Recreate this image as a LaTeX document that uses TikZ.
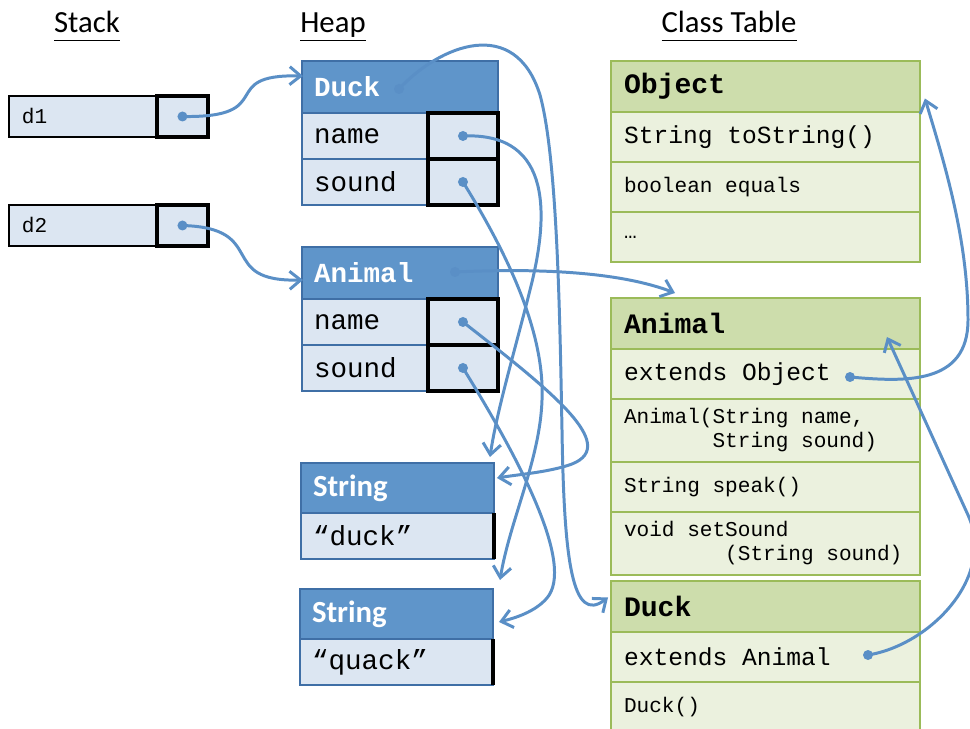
\documentclass[tikz,border=0pt]{standalone}
\usepackage{fontspec}
\usetikzlibrary{positioning,calc,arrows.meta}
\newfontfamily\codefont{Liberation Mono}
\newfontfamily\calfont{Carlito}
\definecolor{cellblue}{HTML}{DCE6F2}
\definecolor{heapblue}{HTML}{5F95CA}
\definecolor{heapedge}{HTML}{3F6FA6}
\definecolor{clsgreen}{HTML}{CDDDAC}
\definecolor{clslight}{HTML}{EBF1DE}
\definecolor{clsedge}{HTML}{9BBB59}
\definecolor{ptrblue}{HTML}{5A8FC6}
\newcommand\heapfont{\codefont\fontsize{15.7}{18}\selectfont}
\newcommand\rowfont{\codefont\fontsize{14}{16}\selectfont}
\newcommand\smallfont{\codefont\fontsize{12}{13.6}\selectfont}
\newcommand\hdrfont{\codefont\bfseries\fontsize{16}{18}\selectfont}
\begin{document}
\begin{tikzpicture}[x=0.02cm, y=-0.02cm,
  title/.style={font=\calfont\fontsize{17.5}{20}\selectfont, anchor=base},
  stackcell/.style={draw=black, line width=0.8pt, fill=cellblue, text width=2.44cm, inner xsep=0.26cm, minimum height=0.82cm, align=flush left, anchor=north west, outer sep=0pt, font=\smallfont},
  stackref/.style={draw=black, line width=2.3pt, fill=cellblue, minimum width=1.02cm, minimum height=0.82cm, anchor=west, outer sep=0pt},
  heaphdr/.style={draw=heapedge, line width=0.8pt, fill=heapblue, text=white, font=\heapfont\bfseries, text width=3.44cm, inner xsep=0.24cm, minimum height=1.04cm, align=flush left, outer sep=0pt},
  heaprow/.style={draw=heapedge, line width=0.8pt, fill=cellblue, font=\heapfont, text width=3.44cm, inner xsep=0.24cm, minimum height=0.92cm, align=flush left, outer sep=0pt},
  heapref/.style={draw=black, line width=2.3pt, fill=cellblue, minimum width=1.4cm, minimum height=0.92cm, anchor=east, outer sep=0pt},
  strhdr/.style={heaphdr, font=\calfont\bfseries\fontsize{17.5}{20}\selectfont, text width=3.38cm, minimum height=1.0cm},
  strrow/.style={heaprow, text width=3.38cm},
  clshdr/.style={draw=clsedge, line width=0.8pt, fill=clsgreen, font=\hdrfont, text width=5.66cm, inner xsep=0.26cm, minimum height=1.02cm, align=flush left, outer sep=0pt},
  clsrow/.style={draw=clsedge, line width=0.8pt, fill=clslight, font=\rowfont, text width=5.66cm, inner xsep=0.26cm, minimum height=1.0cm, align=flush left, outer sep=0pt},
  clssmall/.style={clsrow, font=\smallfont},
  dot/.style={circle, fill=ptrblue, inner sep=0pt, minimum size=0.2cm},
  ptr/.style={draw=ptrblue, line width=1.7pt, line cap=round, -{Straight Barb[length=0.22cm,width=0.36cm]}}]
  \useasboundingbox (0,0) rectangle (970,729);
  % titles
  \node[title] (stacktitle) at (87,33) {\underline{\vphantom{p}Stack}};
  \node[title] (heaptitle) at (333,33) {\underline{\vphantom{p}Heap}};
  \node[title] (clstitle) at (729,33) {\underline{\vphantom{p}Class Table}};
  % stack
  \node[stackcell] (d1) at (9,96) {d1};
  \node[stackref] (d1ref) at (d1.east) {};
  \node[stackcell] (d2) at (9,205) {d2};
  \node[stackref] (d2ref) at (d2.east) {};
  % heap objects
  \node[heaphdr, anchor=north west] (duckhdr) at (302,61) {Duck};
  \node[heaprow, below=0pt of duckhdr] (dname) {name};
  \node[heaprow, below=0pt of dname] (dsound) {sound};
  \node[heapref] (dnref) at (dname.east) {};
  \node[heapref] (dsref) at (dsound.east) {};
  \node[heaphdr, anchor=north west] (anhdr) at (302,247) {Animal};
  \node[heaprow, below=0pt of anhdr] (aname) {name};
  \node[heaprow, below=0pt of aname] (asound) {sound};
  \node[heapref] (anref) at (aname.east) {};
  \node[heapref] (asref) at (asound.east) {};
  % strings
  \node[strhdr, anchor=north west] (strduck) at (301,463) {String};
  \node[strrow, below=0pt of strduck] (strduckval) {“duck”};
  \draw[line width=2.3pt] (strduckval.north east) -- (strduckval.south east);
  \node[strhdr, anchor=north west] (strquack) at (300,589) {String};
  \node[strrow, below=0pt of strquack] (strquackval) {“quack”};
  \draw[line width=2.3pt] (strquackval.north east) -- (strquackval.south east);
  % class table
  \node[clshdr, anchor=north west] (objcls) at (611,61) {Object};
  \node[clsrow, below=0pt of objcls] (obj1) {String toString()};
  \node[clssmall, below=0pt of obj1] (obj2) {boolean equals};
  \node[clssmall, below=0pt of obj2] (obj3) {…};
  \node[clshdr, anchor=north west] (ancls) at (611,298) {Animal};
  \node[clsrow, below=0pt of ancls] (an1) {extends Object};
  \node[clssmall, below=0pt of an1, minimum height=1.26cm] (an2) {Animal(String name,\\\mbox{\hspace*{4.2em}String sound)}};
  \node[clssmall, below=0pt of an2] (an3) {String speak()};
  \node[clssmall, below=0pt of an3, minimum height=1.26cm] (an4) {void setSound\\\mbox{\hspace*{4.8em}(String sound)}};
  \node[clshdr, anchor=north west] (duckcls) at (611,581) {Duck};
  \node[clsrow, below=0pt of duckcls] (dk1) {extends Animal};
  \node[clssmall, below=0pt of dk1] (dk2) {Duck()};
  % pointer dots
  \node[dot] (d1p) at (d1ref.center) {};
  \node[dot] (d2p) at (d2ref.center) {};
  \node[dot] (dkp) at (399,89) {};
  \node[dot] (dnp) at (dnref.center) {};
  \node[dot] (dsp) at (dsref.center) {};
  \node[dot] (anp) at (455,272) {};
  \node[dot] (annp) at (anref.center) {};
  \node[dot] (asp) at (asref.center) {};
  \node[dot] (eop) at (850,377) {};
  \node[dot] (eap) at (868,655) {};
  % arrow ends
  \coordinate (duckin) at ($(duckhdr.west)+(1,-11)$);
  \coordinate (animalin) at ($(anhdr.west)+(1,7)$);
  \coordinate (duckclsin) at ($(duckcls.west)+(-3,-9)$);
  \coordinate (strduckin) at ($(strduck.north east)+(-4,-6)$);
  \coordinate (strquackin) at ($(strquack.north east)+(7,-9)$);
  \coordinate (strduckside) at ($(strduck.east)+(3,-10)$);
  \coordinate (strquackside) at ($(strquack.east)+(6,8)$);
  \coordinate (anclsin) at ($(ancls.north west)+(64,-5)$);
  \coordinate (objin) at ($(objcls.east)+(5,12)$);
  \coordinate (anclsup) at ($(ancls.north east)+(-33,39)$);
  % references
  \draw[ptr] (d1p.center) .. controls (280,118) and (215,74) .. (duckin);
  \draw[ptr] (d2p.center) .. controls (270,228) and (215,282) .. (animalin);
  \draw[ptr] (dkp.center) .. controls (440,45) and (515,15) .. (540,95) .. controls (558,160) and (560,330) .. (562,430) .. controls (564,560) and (572,625) .. (duckclsin);
  \draw[ptr] (dnp.center) .. controls (555,132) and (548,220) .. (530,290) .. controls (515,350) and (497,410) .. (strduckin);
  \draw[ptr] (dsp.center) .. controls (505,250) and (545,330) .. (542,400) .. controls (540,460) and (510,520) .. (strquackin);
  \draw[ptr] (anp.center) .. controls (540,268) and (620,272) .. (anclsin);
  \draw[ptr] (annp.center) .. controls (550,390) and (620,445) .. (572,464) .. controls (550,472) and (522,474) .. (strduckside);
  \draw[ptr] (asp.center) .. controls (520,460) and (575,565) .. (547,598) .. controls (535,612) and (515,618) .. (strquackside);
  % superclass links
  \draw[ptr] (eop.center) .. controls (905,382) and (968,385) .. (968,320) .. controls (968,240) and (945,165) .. (objin);
  \draw[ptr] (eap.center) .. controls (930,645) and (996,577) .. (968,515) .. controls (941,456) and (914,396) .. (anclsup);
\end{tikzpicture}
\end{document}
